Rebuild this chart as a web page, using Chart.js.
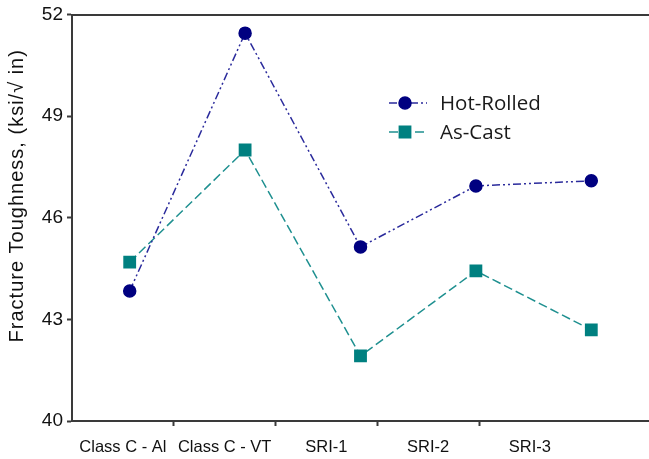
<!DOCTYPE html>
<html>
<head>
<meta charset="utf-8">
<script src="https://cdn.jsdelivr.net/npm/chart.js@4/dist/chart.umd.min.js"></script>
<style>
html,body{margin:0;padding:0;background:#fff;overflow:hidden;}
#wrap{width:649px;height:459px;position:relative;}
canvas{display:block;}
</style>
</head>
<body>
<div id="wrap"><canvas id="c"></canvas></div>
<script>
const categories = ['Class C - Al', 'Class C - VT', 'SRI-1', 'SRI-2', 'SRI-3'];
const hotRolled = [43.84, 51.45, 45.14, 46.94, 47.09];
const asCast = [44.69, 48.0, 41.92, 44.43, 42.69];
const yTicks = [40, 43, 46, 49, 52];
const seriesNames = ['Hot-Rolled', 'As-Cast'];
const yTitle = 'Fracture Toughness, (ksi/\u221A in)';

const AXIS = '#3a3a3a';
const HR_LINE = '#2b2b9c';
const HR_POINT = '#000080';
const AC_LINE = '#1f9090';
const AC_POINT = '#008080';
const HR_DASH = [8, 3, 2, 3, 2, 3];
const AC_DASH = [9, 4];

const legendPlugin = {
  id: 'insideLegend',
  afterDatasetsDraw(chart) {
    const ctx = chart.ctx;
    const items = [
      {ds: chart.data.datasets[0], y: 103},
      {ds: chart.data.datasets[1], y: 132}
    ];
    items.forEach(it => {
      const ds = it.ds;
      ctx.save();
      ctx.strokeStyle = ds.borderColor;
      ctx.lineWidth = 1.5;
      ctx.setLineDash(ds.borderDash);
      ctx.beginPath();
      ctx.moveTo(389, it.y);
      ctx.lineTo(427, it.y);
      ctx.stroke();
      ctx.setLineDash([]);
      ctx.fillStyle = ds.pointBackgroundColor;
      ctx.strokeStyle = ds.pointBorderColor;
      Chart.helpers.drawPoint(ctx, {
        pointStyle: ds.pointStyle,
        radius: ds.pointRadius,
        borderWidth: 1
      }, 405, it.y);
      ctx.fillStyle = '#1a1a1a';
      ctx.font = '20.5px "Open Sans"';
      ctx.textBaseline = 'middle';
      ctx.textAlign = 'left';
      ctx.fillText(ds.label, 440, it.y + 1);
      ctx.restore();
    });
  }
};

function zeroPad(scale) {
  scale.paddingLeft = 0; scale.paddingRight = 0;
  scale.paddingTop = 0; scale.paddingBottom = 0;
}

const ctxEl = document.getElementById('c');
new Chart(ctxEl, {
  type: 'line',
  data: {
    labels: categories,
    datasets: [
      {
        label: seriesNames[0],
        data: hotRolled,
        borderColor: HR_LINE,
        backgroundColor: HR_POINT,
        borderWidth: 1.5,
        borderDash: HR_DASH,
        pointStyle: 'circle',
        pointRadius: 6,
        pointBorderColor: HR_POINT,
        pointBackgroundColor: HR_POINT,
        tension: 0,
        fill: false,
        xAxisID: 'x',
        yAxisID: 'y'
      },
      {
        label: seriesNames[1],
        data: asCast,
        borderColor: AC_LINE,
        backgroundColor: AC_POINT,
        borderWidth: 1.5,
        borderDash: AC_DASH,
        pointStyle: 'rect',
        pointRadius: 8,
        pointBorderColor: AC_POINT,
        pointBackgroundColor: AC_POINT,
        tension: 0,
        fill: false,
        xAxisID: 'x',
        yAxisID: 'y'
      }
    ]
  },
  options: {
    responsive: true,
    maintainAspectRatio: false,
    animation: false,
    layout: {autoPadding: false, padding: {top: 14.5, right: 0, bottom: 0, left: 0}},
    plugins: {
      legend: {display: false},
      tooltip: {enabled: false}
    },
    scales: {
      x: {
        type: 'category',
        display: false,
        offset: true,
        afterFit(scale) { zeroPad(scale); }
      },
      xTop: {
        type: 'category',
        position: 'top',
        display: true,
        labels: categories,
        ticks: {display: false},
        grid: {display: false, drawTicks: false},
        border: {display: true, color: AXIS, width: 2},
        afterFit(scale) { scale.height = 0; zeroPad(scale); }
      },
      xLab: {
        type: 'linear',
        position: 'bottom',
        min: 0,
        max: 5.67,
        afterBuildTicks(scale) {
          const t = [];
          for (let i = 0; i < categories.length; i++) {
            t.push({value: i + 0.5});
            if (i < categories.length - 1) t.push({value: i + 1});
          }
          scale.ticks = t;
        },
        ticks: {
          autoSkip: false,
          maxRotation: 0,
          minRotation: 0,
          padding: 12,
          color: '#111',
          font: {family: '"Liberation Sans", Arial, sans-serif', size: 16.5},
          callback(value) {
            return Number.isInteger(value) ? '' : categories[Math.floor(value)];
          }
        },
        grid: {
          drawOnChartArea: false,
          drawTicks: true,
          tickLength: 5,
          tickWidth: 2,
          tickColor(c) { return (c.tick && Number.isInteger(c.tick.value)) ? AXIS : 'rgba(0,0,0,0)'; }
        },
        border: {display: true, color: AXIS, width: 2},
        afterFit(scale) { scale.height = 38; zeroPad(scale); }
      },
      y: {
        type: 'linear',
        min: 40,
        max: 52,
        afterBuildTicks(scale) {
          scale.ticks = yTicks.map(v => ({value: v}));
        },
        ticks: {
          padding: 4,
          color: '#111',
          font: {family: '"Liberation Sans", Arial, sans-serif', size: 19}
        },
        grid: {
          drawOnChartArea: false,
          drawTicks: true,
          tickLength: 5,
          tickWidth: 2,
          tickColor: AXIS
        },
        border: {display: true, color: AXIS, width: 2},
        title: {
          display: true,
          text: yTitle,
          color: '#111',
          padding: {top: 5, bottom: 0},
          font: {family: '"Liberation Sans", Arial, sans-serif', size: 20}
        },
        afterFit(scale) {
          scale.width = 72;
          zeroPad(scale);
          if (!scale._titleWrapped) {
            const orig = scale.drawTitle;
            scale.drawTitle = function () {
              const c = this.ctx;
              c.save();
              c.letterSpacing = '1px';
              c.translate(0, -22);
              orig.call(this);
              c.restore();
            };
            scale._titleWrapped = true;
          }
        }
      }
    }
  },
  plugins: [legendPlugin]
});
</script>
</body>
</html>
